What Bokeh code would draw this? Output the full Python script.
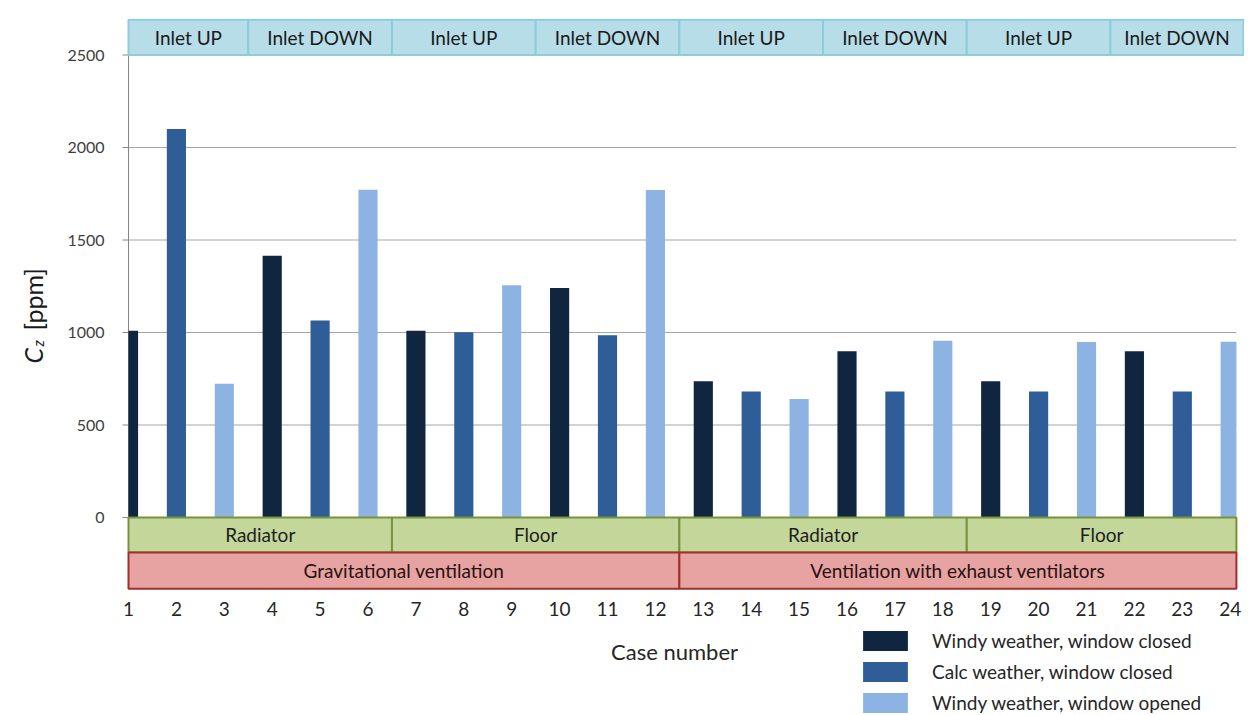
from bokeh.plotting import figure
from bokeh.models import Range1d, FixedTicker, Legend, LegendItem, Label
from bokeh.core.properties import value
from bokeh.embed import file_html
from bokeh.resources import INLINE

# ---------------- data ----------------
cases = list(range(1, 25))
cz_ppm = [1010, 2100, 723, 1415, 1065, 1772,
          1010, 1002, 1255, 1240, 985, 1770,
          737, 681, 641, 898, 681, 955,
          737, 681, 948, 898, 681, 950]
series_names = ["Windy weather, window closed",
                "Calc weather, window closed",
                "Windy weather, window opened"]
series_of_case = [0, 1, 2] * 8

inlet_labels = ["Inlet UP", "Inlet DOWN"] * 4          # 3 cases each
heating_labels = ["Radiator", "Floor", "Radiator", "Floor"]  # 6 cases each
vent_labels = ["Gravitational ventilation", "Ventilation with exhaust ventilators"]  # 12 each

y_ticks = [0, 500, 1000, 1500, 2000, 2500]
x_title = "Case number"

# ---------------- layout / style ----------------
FONT = "Lato"
bar_colors = ["#10253f", "#2f5d98", "#8db3e2"]
AXIS_COLOR = "#868686"
PX_CASE = 47.9          # pixels per case
PX_UNIT = 0.185         # pixels per ppm
LEFT_PX, TOP_PX = 118, 18
W, H = 1244, 715
X0 = 1.0 - (128 - LEFT_PX) / PX_CASE
X1 = X0 + (W - LEFT_PX) / PX_CASE
Y1 = (517 - TOP_PX) / PX_UNIT
Y0 = -(H - 517) / PX_UNIT
A0, A1 = 1.0, 24.13     # plot-area extent (cases axis)
BAR_W = 0.4
TICK_LEN = 6 / PX_CASE

p = figure(width=W, height=H, output_backend="svg", toolbar_location=None,
           x_range=Range1d(X0, X1), y_range=Range1d(Y0, Y1),
           x_axis_location=None,
           min_border_left=LEFT_PX, min_border_right=0, min_border_top=TOP_PX,
           min_border_bottom=0)
p.outline_line_color = None
p.background_fill_color = "white"
p.border_fill_color = "white"
p.xgrid.grid_line_color = None
p.ygrid.grid_line_color = None

# horizontal grid lines limited to the plot area
grid_vals = y_ticks[1:-1]
p.segment(x0=[A0] * len(grid_vals), x1=[A1] * len(grid_vals), y0=grid_vals, y1=grid_vals,
          line_color="#a6a6a6", line_width=1)

# y axis: labels from the axis, rule and ticks drawn at case 1
p.yaxis.ticker = FixedTicker(ticks=y_ticks)
p.yaxis.axis_line_color = None
p.yaxis.major_tick_line_color = None
p.yaxis.minor_tick_line_color = None
p.yaxis.major_label_text_font = FONT
p.yaxis.major_label_text_font_size = "16px"
p.yaxis.major_label_text_color = "#404040"
p.yaxis.major_label_standoff = 8
p.segment(x0=[A0], x1=[A0], y0=[y_ticks[0]], y1=[y_ticks[-1]], line_color=AXIS_COLOR, line_width=1)
p.segment(x0=[A0 - TICK_LEN] * len(y_ticks), x1=[A0] * len(y_ticks), y0=y_ticks, y1=y_ticks,
          line_color=AXIS_COLOR, line_width=1)

# bars (cut at the plot-area edges like the original)
renderers = []
for s, name in enumerate(series_names):
    xs = [c for c, k in zip(cases, series_of_case) if k == s]
    ys = [v for v, k in zip(cz_ppm, series_of_case) if k == s]
    r = p.quad(left=[max(c - BAR_W / 2, A0) for c in xs],
               right=[min(c + BAR_W / 2, A1) for c in xs],
               bottom=0, top=ys, fill_color=bar_colors[s], line_color=None)
    renderers.append(r)

# category bands
def band(labels, span, y_bottom, y_top, right_edge, fill, line, text_color):
    lefts, rights, centers = [], [], []
    for i, _ in enumerate(labels):
        first = cases[i * span]
        last = cases[i * span + span - 1]
        l = max(first - 0.5, A0)
        r = min(last + 0.5, right_edge)
        lefts.append(l)
        rights.append(r)
        centers.append((l + r) / 2)
    p.quad(left=lefts, right=rights, bottom=y_bottom, top=y_top,
           fill_color=fill, line_color=line, line_width=2)
    p.text(x=centers, y=[(y_bottom + y_top) / 2] * len(labels), text=labels,
           text_align="center", text_baseline="middle", text_font=value(FONT),
           text_font_size="19px", text_color=text_color)

band(inlet_labels, 3, 2500, 2690, X1 - 0.02, "#b7dde8", "#8ecbdb", "#1a1a1a")
band(heating_labels, 6, -189, 0, A1, "#c4d79b", "#77933c", "#1e1e1e")
band(vent_labels, 12, -385, -189, A1, "#e6a3a2", "#a0302c", "#2a1010")

# case-number labels under the bands
p.text(x=cases, y=[-497] * len(cases), text=[str(c) for c in cases],
       text_align="center", text_baseline="middle", text_font=value(FONT),
       text_font_size="19px", text_color="#262626")
p.text(x=[12.4], y=[-724], text=[x_title], text_align="center", text_baseline="middle",
       text_font=value(FONT), text_font_size="22px", text_color="#262626")

# legend
legend = Legend(items=[LegendItem(label=n, renderers=[r]) for n, r in zip(series_names, renderers)],
                location=(857 - LEFT_PX, 0), orientation="vertical",
                glyph_width=56, glyph_height=25, label_standoff=19, spacing=6,
                padding=0, margin=0, border_line_color=None, background_fill_alpha=0,
                label_text_font=FONT, label_text_font_size="19px",
                label_text_color="#262626")
p.add_layout(legend)

# y axis title  C_z [ppm]  (in side panels so it is not clipped)
def px_to_x(px):
    return X0 + (px - LEFT_PX) / PX_CASE

def py_to_y(py):
    return (517 - py) / PX_UNIT

p.add_layout(Label(x=px_to_x(32), y=py_to_y(363), text="C",
                   angle=90, angle_units="deg", text_font=FONT, text_font_size="25px",
                   text_font_style="italic", text_color="#1a1a1a",
                   text_align="left", text_baseline="alphabetic"), "left")
p.add_layout(Label(x=px_to_x(32), y=py_to_y(330), text="[ppm]",
                   angle=90, angle_units="deg", text_font=FONT, text_font_size="25px",
                   text_color="#1a1a1a", text_align="left", text_baseline="alphabetic"), "left")
p.add_layout(Label(x=px_to_x(37), y=py_to_y(346), text="z",
                   angle=90, angle_units="deg", text_font=FONT, text_font_size="15px",
                   text_font_style="italic", text_color="#1a1a1a",
                   text_align="left", text_baseline="alphabetic"), "above")

open("out.html", "w").write(file_html(p, INLINE))
